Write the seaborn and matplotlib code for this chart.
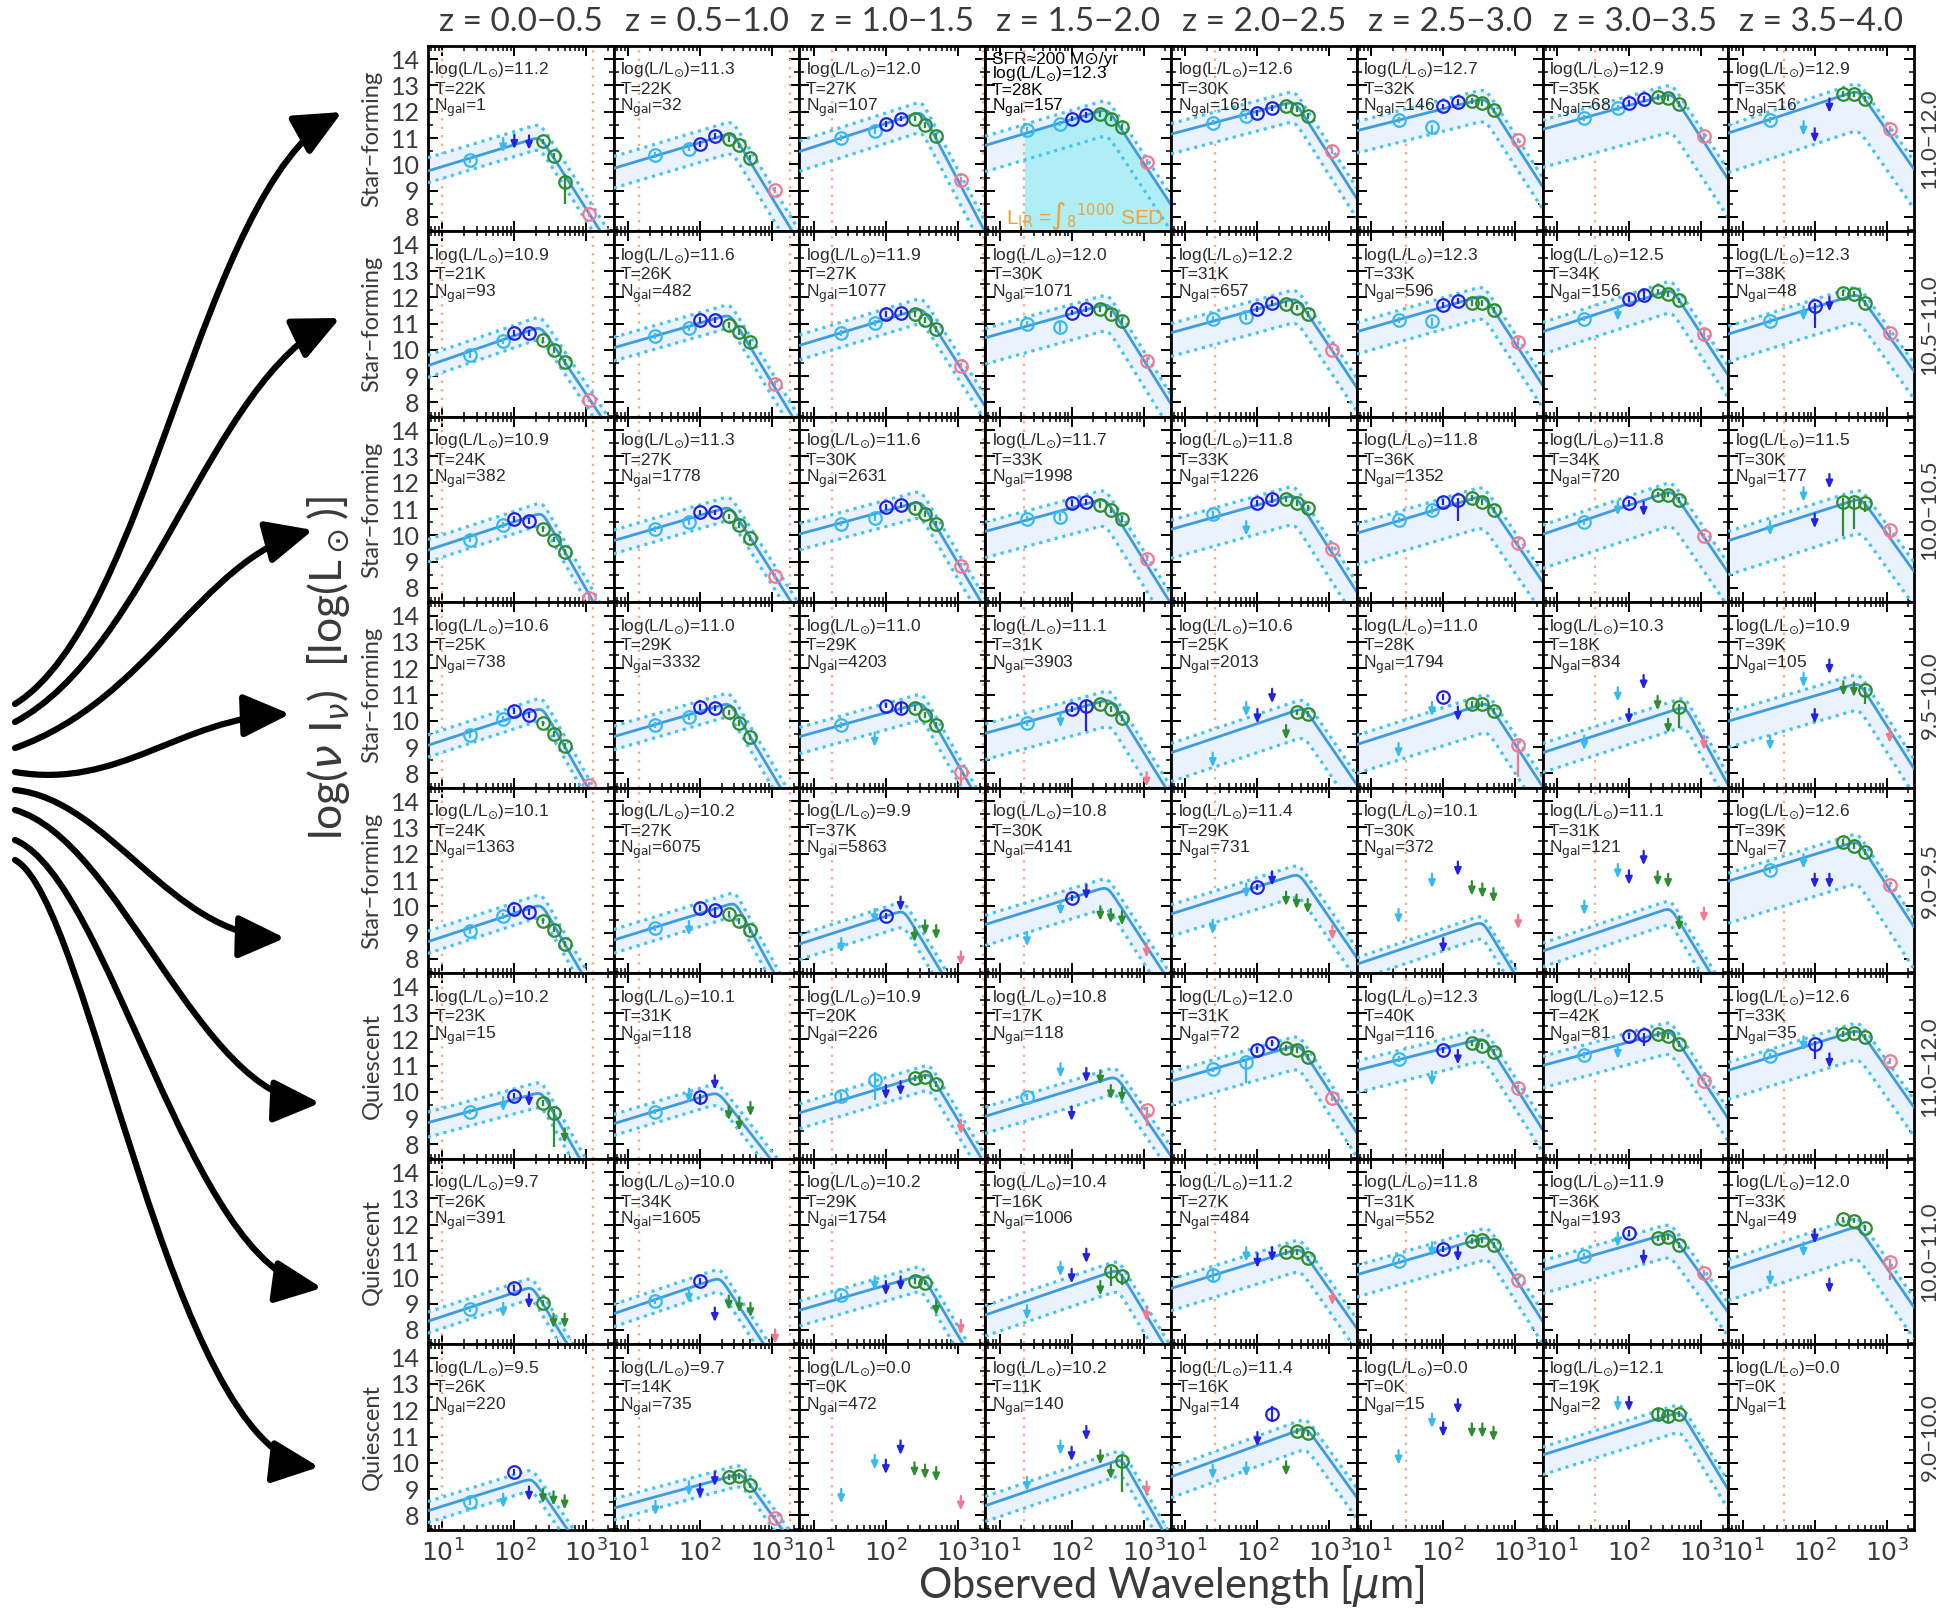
import numpy as np
import matplotlib
matplotlib.use("Agg")
import matplotlib.pyplot as plt
import seaborn as sns
from matplotlib.path import Path
from matplotlib.patches import FancyArrowPatch
from matplotlib.ticker import FixedLocator, LogLocator, NullFormatter, MultipleLocator

sns.set_theme(style="ticks")
plt.rcParams["font.family"] = ["Lato", "DejaVu Sans"]
plt.rcParams["mathtext.fontset"] = "dejavusans"

# ---------------------------------------------------------------- bins / bands
Z_BINS = ["0.0\u22120.5", "0.5\u22121.0", "1.0\u22121.5", "1.5\u22122.0",
          "2.0\u22122.5", "2.5\u22123.0", "3.0\u22123.5", "3.5\u22124.0"]
Z_MID = [0.25, 0.75, 1.25, 1.75, 2.25, 2.75, 3.25, 3.75]
MASS_BINS = ["11.0\u221212.0", "10.5\u221211.0", "10.0\u221210.5", "9.5\u221210.0",
             "9.0\u22129.5", "11.0\u221212.0", "10.0\u221211.0", "9.0\u221210.0"]
GAL_TYPE = ["Star\u2212forming"] * 5 + ["Quiescent"] * 3
BAND_WAVE = [24, 70, 100, 160, 250, 350, 500, 1100]
BAND_COLOR = ["#38b9f0", "#38b9f0", "#2222e4", "#2222e4",
              "#2f8d2f", "#2f8d2f", "#2f8d2f", "#f2798f"]

# ---------------------------------------------------------------- row 1
LOGL_R1 = [11.2, 11.3, 12.0, 12.3, 12.6, 12.7, 12.9, 12.9]
TEMP_R1 = [22, 22, 27, 28, 30, 32, 35, 35]
NGAL_R1 = [1, 32, 107, 157, 161, 146, 68, 16]
FLUX_R1 = [[10.17, 11.0, 11.13, 11.1, 10.87, 10.32, 9.34, 8.11],
           [10.36, 10.6, 10.78, 11.07, 10.95, 10.72, 10.26, 9.03],
           [11.0, 11.28, 11.52, 11.74, 11.74, 11.5, 11.09, 9.4],
           [11.31, 11.55, 11.74, 11.88, 11.92, 11.74, 11.42, 10.08],
           [11.59, 11.83, 11.96, 12.14, 12.23, 12.1, 11.83, 10.5],
           [11.68, 11.41, 12.2, 12.38, 12.4, 12.33, 12.05, 10.91],
           [11.77, 12.14, 12.33, 12.47, 12.57, 12.51, 12.29, 11.09],
           [11.68, 11.64, 11.37, 12.51, 12.66, 12.66, 12.47, 11.33]]
KIND_R1 = ["ovvvoooo", "oooooooo", "oooooooo", "oooooooo",
           "oooooooo", "oooooooo", "oooooooo", "ovvvoooo"]
SED_R1 = [(9.75, 2.36, 11.05, -4.3), (9.85, 2.45, 11.2, -4.5), (10.49, 2.5, 12.0, -5.2),
          (10.72, 2.5, 12.12, -4.15), (11.15, 2.52, 12.4, -4.3), (11.28, 2.59, 12.52, -4.25),
          (11.33, 2.6, 12.7, -4.2), (11.19, 2.61, 12.82, -3.9)]
BAND_R1 = [(0.5, 0.45), (0.45, 0.75), (0.4, 0.75), (0.35, 1.0),
           (0.4, 0.75), (0.35, 0.85), (0.35, 1.45), (0.3, 1.5)]

# ---------------------------------------------------------------- row 2
LOGL_R2 = [10.9, 11.6, 11.9, 12.0, 12.2, 12.3, 12.5, 12.3]
TEMP_R2 = [21, 26, 27, 30, 31, 33, 34, 38]
NGAL_R2 = [93, 482, 1077, 1071, 657, 596, 156, 48]
FLUX_R2 = [[9.8, 10.32, 10.63, 10.63, 10.37, 10.0, 9.53, 8.11],
           [10.54, 10.84, 11.15, 11.15, 10.96, 10.69, 10.28, 8.72],
           [10.65, 11.02, 11.37, 11.42, 11.37, 11.15, 10.78, 9.4],
           [11.0, 10.87, 11.42, 11.55, 11.55, 11.37, 11.09, 9.58],
           [11.19, 11.24, 11.55, 11.79, 11.74, 11.61, 11.37, 10.01],
           [11.15, 11.11, 11.7, 11.85, 11.79, 11.79, 11.52, 10.28],
           [11.19, 11.65, 11.92, 12.09, 12.22, 12.12, 11.88, 10.6],
           [11.09, 11.65, 11.65, 12.01, 12.16, 12.12, 11.79, 10.65]]
KIND_R2 = ["oooooooo", "oooooooo", "oooooooo", "oooooooo",
           "oooooooo", "oooooooo", "ovoooooo", "ovovoooo"]
SED_R2 = [(9.4, 2.37, 10.89, -4.1), (10.08, 2.42, 11.35, -4.5), (10.17, 2.51, 11.59, -4.3),
          (10.46, 2.51, 11.77, -4.4), (10.65, 2.55, 11.97, -4.1), (10.69, 2.565, 12.08, -4.2),
          (10.69, 2.6, 12.3, -4.2), (10.6, 2.61, 12.14, -3.84)]
BAND_R2 = [(0.4, 0.45), (0.4, 0.5), (0.4, 0.55), (0.35, 1.0),
           (0.35, 0.9), (0.35, 0.85), (0.35, 0.85), (0.3, 1.05)]

# ---------------------------------------------------------------- row 3
LOGL_R3 = [10.9, 11.3, 11.6, 11.7, 11.8, 11.8, 11.8, 11.5]
TEMP_R3 = [24, 27, 30, 33, 33, 36, 34, 30]
NGAL_R3 = [382, 1778, 2631, 1998, 1226, 1352, 720, 177]
FLUX_R3 = [[9.84, 10.39, 10.63, 10.54, 10.23, 9.84, 9.38, 7.63],
           [10.23, 10.5, 10.87, 10.87, 10.72, 10.39, 9.9, 8.46],
           [10.45, 10.67, 11.09, 11.15, 11.04, 10.82, 10.45, 8.85],
           [10.63, 10.69, 11.22, 11.26, 11.15, 10.96, 10.63, 9.12],
           [10.82, 10.54, 11.22, 11.37, 11.37, 11.22, 11.04, 9.49],
           [10.58, 10.95, 11.28, 11.33, 11.41, 11.28, 10.96, 9.71],
           [10.49, 11.3, 11.22, 11.28, 11.55, 11.55, 11.33, 9.99],
           [10.54, 11.83, 10.82, 12.33, 11.28, 11.28, 11.22, 10.21]]
KIND_R3 = ["oooooooo", "oooooooo", "oooooooo", "oooooooo",
           "ovoooooo", "oooooooo", "ovovoooo", "vvvvoooo"]
SED_R3 = [(9.44, 2.39, 10.87, -4.8), (9.8, 2.42, 11.1, -4.3), (10.05, 2.49, 11.3, -4.6),
          (10.15, 2.47, 11.4, -4.4), (10.23, 2.52, 11.55, -4.3), (10.08, 2.56, 11.52, -4.0),
          (10.04, 2.6, 11.7, -4.0), (9.8, 2.645, 11.42, -3.8)]
BAND_R3 = [(0.4, 0.45), (0.4, 0.5), (0.4, 0.6), (0.35, 1.0),
           (0.35, 1.1), (0.35, 1.2), (0.35, 1.3), (0.35, 1.3)]

# ---------------------------------------------------------------- row 4
LOGL_R4 = [10.6, 11.0, 11.0, 11.1, 10.6, 11.0, 10.3, 10.9]
TEMP_R4 = [25, 29, 29, 31, 25, 28, 18, 39]
NGAL_R4 = [738, 3332, 4203, 3903, 2013, 1794, 834, 105]
FLUX_R4 = [[9.47, 10.08, 10.36, 10.21, 9.9, 9.49, 9.03, 7.55],
           [9.84, 10.14, 10.54, 10.5, 10.32, 9.93, 9.38, None],
           [9.84, 9.56, 10.58, 10.49, 10.49, 10.21, 9.84, 8.05],
           [9.93, 10.3, 10.45, 10.58, 10.63, 10.45, 10.12, 8.05],
           [8.79, 10.72, 10.45, 11.22, 9.84, 10.32, 10.26, None],
           [9.16, 10.72, 10.91, 10.54, 10.63, 10.63, 10.36, 9.07],
           [9.44, 11.28, 10.45, 11.74, 10.95, 10.08, 10.54, 9.44],
           [9.44, 11.83, 10.45, 12.33, 11.5, 11.46, 11.18, 9.71]]
KIND_R4 = ["oooooooo", "ooooooo-", "ovoooooo", "ovooooov",
           "vvvvvoo-", "vvovoooo", "vvvvvvov", "vvvvvvov"]
SED_R4 = [(9.07, 2.39, 10.5, -4.8), (9.4, 2.415, 10.69, -4.6), (9.4, 2.51, 10.7, -4.8),
          (9.53, 2.54, 10.83, -4.4), (8.79, 2.65, 10.5, -4.0), (9.1, 2.62, 10.7, -4.2),
          (8.79, 2.78, 10.55, -5.0), (9.99, 2.62, 11.45, -4.3)]
BAND_R4 = [(0.4, 0.45), (0.4, 0.5), (0.35, 0.65), (0.35, 1.0),
           (0.35, 1.1), (0.35, 1.1), (0.35, 0.75), (0.35, 1.0)]

# ---------------------------------------------------------------- row 5
LOGL_R5 = [10.1, 10.2, 9.9, 10.8, 11.4, 10.1, 11.1, 12.6]
TEMP_R5 = [24, 27, 37, 30, 29, 30, 31, 39]
NGAL_R5 = [1363, 6075, 5863, 4141, 731, 372, 121, 7]
FLUX_R5 = [[9.07, 9.64, 9.9, 9.8, 9.45, 9.12, 8.57, None],
           [9.18, 9.44, 9.95, 9.86, 9.71, 9.45, 9.09, 7.75],
           [8.79, 9.9, 9.64, 10.37, 9.2, 9.47, 9.29, 8.29],
           [9.03, 10.22, 10.32, 10.81, 10.0, 9.9, 9.82, 8.6],
           [9.49, 10.87, 10.74, 11.33, 10.56, 10.45, 10.28, 9.27],
           [9.9, 11.24, 8.79, 11.7, 10.96, 10.87, 10.69, 9.68],
           [10.22, 11.61, 11.37, 12.11, 11.33, 11.24, 9.62, 9.95],
           [11.37, 11.98, 11.24, 11.24, 12.44, 12.29, 12.07, 10.83]]
KIND_R5 = ["ooooooo-", "ovooooov", "vvovvvvv", "vvovvvvv",
           "vvovvvvv", "vvvvvvvv", "vvvvvvvv", "ovvvoooo"]
SED_R5 = [(8.66, 2.38, 10.08, -4.7), (8.72, 2.49, 10.15, -5.0), (8.57, 2.25, 9.85, -4.5),
          (9.31, 2.5, 10.75, -4.2), (9.71, 2.58, 11.25, -4.0), (7.8, 2.55, 9.42, -4.5),
          (8.3, 2.58, 9.95, -4.5), (10.96, 2.6, 12.49, -4.2)]
BAND_R5 = [(0.4, 0.45), (0.4, 0.5), (0.35, 0.6), (0.35, 0.8),
           (0.35, 0.85), (0.25, 0.6), (0.3, 0.6), (0.3, 1.6)]

# ---------------------------------------------------------------- row 6
LOGL_R6 = [10.2, 10.1, 10.9, 10.8, 12.0, 12.3, 12.5, 12.6]
TEMP_R6 = [23, 31, 20, 17, 31, 40, 42, 33]
NGAL_R6 = [15, 118, 226, 118, 72, 116, 81, 35]
FLUX_R6 = [[9.25, 9.8, 9.86, 9.99, 9.58, 9.2, 8.61, None],
           [9.25, 10.12, 9.8, 10.63, 9.47, 9.07, 9.62, 7.9],
           [9.84, 10.45, 10.26, 10.41, 10.54, 10.58, 10.3, 8.94],
           [9.8, 11.09, 9.44, 10.91, 10.82, 10.26, 10.17, 9.31],
           [10.85, 11.15, 11.59, 11.87, 11.68, 11.59, 11.31, 9.77],
           [11.24, 10.78, 11.59, 11.59, 11.87, 11.74, 11.52, 10.14],
           [11.41, 11.8, 12.11, 12.15, 12.2, 12.11, 11.83, 10.41],
           [11.37, 12.11, 11.83, 11.46, 12.2, 12.24, 12.07, 11.18]]
KIND_R6 = ["ovovoov-", "ovovvvvv", "oovvooov", "ovvvvvvo",
           "oooooooo", "ovovoooo", "ovoooooo", "ovovoooo"]
SED_R6 = [(8.83, 2.38, 10.0, -4.8), (8.79, 2.25, 10.0, -3.5), (9.2, 2.61, 10.7, -4.5),
          (9.07, 2.62, 10.6, -4.0), (10.41, 2.58, 11.8, -4.2), (10.82, 2.57, 12.05, -4.3),
          (11.0, 2.58, 12.33, -4.2), (10.82, 2.62, 12.37, -3.9)]
BAND_R6 = [(0.4, 0.55), (0.35, 0.45), (0.35, 0.6), (0.35, 0.65),
           (0.35, 0.9), (0.35, 0.85), (0.35, 0.85), (0.3, 1.1)]

# ---------------------------------------------------------------- row 7
LOGL_R7 = [9.7, 10.0, 10.2, 10.4, 11.2, 11.8, 11.9, 12.0]
TEMP_R7 = [26, 34, 29, 16, 27, 31, 36, 33]
NGAL_R7 = [391, 1605, 1754, 1006, 484, 552, 193, 49]
FLUX_R7 = [[8.79, 9.03, 9.58, 9.36, 9.03, 8.62, 8.62, None],
           [9.09, 9.58, 9.86, 8.85, 9.31, 9.21, 9.03, 8.02],
           [9.31, 10.04, 9.86, 10.04, 9.86, 9.8, 9.12, 8.39],
           [8.94, 10.59, 10.32, 11.09, 9.86, 10.23, 10.04, 8.88],
           [10.08, 11.15, 10.91, 11.15, 10.96, 10.96, 10.72, 9.49],
           [10.63, 11.33, 11.09, 11.15, 11.37, 11.42, 11.24, 9.91],
           [10.83, 11.7, 11.7, 11.02, 11.48, 11.52, 11.24, 10.17],
           [10.23, 11.33, 11.83, 9.95, 12.2, 12.16, 11.88, 10.6]]
KIND_R7 = ["ovovovv-", "ovovvvvv", "ovvvoovv", "vvvvvoov",
           "ovvvooov", "ovovoooo", "ovovoooo", "vvvvoooo"]
SED_R7 = [(8.33, 2.25, 9.65, -4.5), (8.62, 2.28, 10.0, -4.2), (8.75, 2.5, 10.1, -4.6),
          (8.57, 2.65, 10.3, -4.5), (9.58, 2.6, 11.11, -3.9), (10.1, 2.63, 11.56, -4.3),
          (10.28, 2.58, 11.7, -3.8), (10.32, 2.6, 11.95, -3.96)]
BAND_R7 = [(0.35, 0.45), (0.35, 0.5), (0.35, 0.6), (0.35, 0.8),
           (0.35, 0.85), (0.35, 0.85), (0.35, 0.9), (0.35, 1.2)]

# ---------------------------------------------------------------- row 8
LOGL_R8 = [9.5, 9.7, 0.0, 10.2, 11.4, 0.0, 12.1, 0.0]
TEMP_R8 = [26, 14, 0, 11, 16, 0, 19, 0]
NGAL_R8 = [220, 735, 472, 140, 14, 15, 2, 1]
FLUX_R8 = [[8.5, 8.83, 9.66, 9.1, 9.01, 8.92, 8.77, 7.75],
           [8.55, 9.29, 9.2, 9.66, 9.47, 9.51, 9.14, 7.91],
           [9.01, 10.3, 10.12, 10.85, 10.02, 9.93, 9.84, 8.74],
           [9.47, 10.85, 10.61, 11.4, 10.48, 9.93, 10.08, 9.29],
           [9.93, 10.02, 11.17, 11.87, 10.06, 11.22, 11.13, None],
           [10.48, 11.87, 11.54, 12.42, 11.5, 11.5, 11.37, None],
           [None, 12.51, 12.51, None, 11.87, 11.77, 11.87, None],
           [None, None, None, None, None, None, None, None]]
KIND_R8 = ["ovovvvvv", "vvvvoooo", "vvvvvvvv", "vvvvvvov",
           "vvvovoo-", "vvvvvvv-", "-vv-ooo-", "--------"]
SED_R8 = [(8.18, 2.25, 9.42, -4.0), (8.28, 2.58, 9.6, -3.8), None,
          (8.37, 2.7, 10.15, -4.8), (9.47, 2.68, 11.35, -3.8), None,
          (10.3, 2.72, 11.95, -4.5), None]
BAND_R8 = [(0.35, 0.45), (0.35, 0.45), None, (0.35, 0.6),
           (0.35, 0.8), None, (0.3, 0.75), None]

# asymmetric error bars (row, column, band) -> (down, up); all others are small
ERRORS = {(0, 0, 6): (0.85, 0.3), (0, 5, 1): (0.25, 0.1),
          (1, 3, 1): (0.2, 0.2), (1, 5, 1): (0.2, 0.1), (1, 6, 3): (0.2, 0.2),
          (1, 7, 2): (0.8, 0.15),
          (2, 3, 1): (0.15, 0.15), (2, 4, 3): (0.15, 0.15), (2, 5, 1): (0.15, 0.15),
          (2, 5, 3): (0.8, 0.1), (2, 7, 4): (1.3, 0.15), (2, 7, 5): (1.05, 0.15),
          (2, 7, 6): (0.35, 0.1), (2, 7, 7): (0.4, 0.1),
          (3, 2, 3): (0.2, 0.2), (3, 2, 7): (0.5, 0.1), (3, 3, 3): (0.95, 0.2),
          (3, 5, 7): (1.2, 0.15), (3, 6, 6): (0.8, 0.1), (3, 7, 6): (0.55, 0.1),
          (4, 1, 3): (0.3, 0.1),
          (5, 0, 5): (1.3, 0.15), (5, 1, 2): (0.3, 0.1), (5, 2, 1): (0.75, 0.3),
          (5, 3, 7): (0.6, 0.1), (5, 4, 1): (0.8, 0.1), (5, 6, 3): (0.4, 0.1),
          (5, 7, 2): (0.6, 0.1),
          (6, 3, 5): (0.55, 0.15), (6, 3, 6): (0.35, 0.1), (6, 4, 0): (0.25, 0.25),
          (6, 7, 7): (0.7, 0.1),
          (7, 3, 6): (1.2, 0.2), (7, 4, 3): (0.3, 0.3), (7, 6, 4): (0.2, 0.2),
          (7, 6, 5): (0.2, 0.2)}

LOGL = [LOGL_R1, LOGL_R2, LOGL_R3, LOGL_R4, LOGL_R5, LOGL_R6, LOGL_R7, LOGL_R8]
TEMP = [TEMP_R1, TEMP_R2, TEMP_R3, TEMP_R4, TEMP_R5, TEMP_R6, TEMP_R7, TEMP_R8]
NGAL = [NGAL_R1, NGAL_R2, NGAL_R3, NGAL_R4, NGAL_R5, NGAL_R6, NGAL_R7, NGAL_R8]
FLUX = [FLUX_R1, FLUX_R2, FLUX_R3, FLUX_R4, FLUX_R5, FLUX_R6, FLUX_R7, FLUX_R8]
KIND = [KIND_R1, KIND_R2, KIND_R3, KIND_R4, KIND_R5, KIND_R6, KIND_R7, KIND_R8]
SED = [SED_R1, SED_R2, SED_R3, SED_R4, SED_R5, SED_R6, SED_R7, SED_R8]
BAND = [BAND_R1, BAND_R2, BAND_R3, BAND_R4, BAND_R5, BAND_R6, BAND_R7, BAND_R8]

LOGX_MIN, LOGX_MAX = 0.80, 3.38
Y_MIN, Y_MAX = 7.45, 14.5

CURVE_C = "#3d9be0"
DOT_C = "#45c4f4"
BAND_FILL = "#eaf3fd"
VLINE_C = "#f6a98c"
TEXT_C = "#2a2a2a"
LABEL_C = "#3a3a3a"
PANEL_FONT = ["Liberation Sans", "DejaVu Sans"]


def sed_curve(logx, y_left, log_peak, y_peak, slope, soft=0.35):
    """Power-law rise joined to a Rayleigh-Jeans fall with a rounded peak."""
    rise = y_left + (y_peak - y_left) * (logx - LOGX_MIN) / (log_peak - LOGX_MIN)
    fall = y_peak + slope * (logx - log_peak)
    return -soft * np.log10(10 ** (-rise / soft) + 10 ** (-fall / soft))


fig, axes = plt.subplots(8, 8, figsize=(19.46, 16.13), dpi=100, sharex=True, sharey=True)
fig.subplots_adjust(left=0.2199, right=0.9836, top=0.9715, bottom=0.0515,
                    wspace=0, hspace=0)

logx = np.linspace(LOGX_MIN, LOGX_MAX, 400)
wave = 10 ** logx

for r in range(8):
    for c in range(8):
        ax = axes[r, c]
        ax.set_xscale("log")
        zm = Z_MID[c]
        for w in (8 * (1 + zm), 1000 * (1 + zm)):
            ax.axvline(w, color=VLINE_C, ls=(0, (1.0, 2.6)), lw=1.7, zorder=1)

        if SED[r][c] is not None:
            yl, xp, yp, sf = SED[r][c]
            du, dl = BAND[r][c]
            curve = sed_curve(logx, yl, xp, yp, sf)
            ax.fill_between(wave, curve - dl, curve + du, color=BAND_FILL, lw=0, zorder=2)
            if r == 0 and c == 3:
                sel = wave >= 8 * (1 + zm)
                ax.fill_between(wave[sel], Y_MIN, curve[sel], color="#aeeef4", lw=0, zorder=2.5)
                ax.axvline(8 * (1 + zm), color=VLINE_C, ls=(0, (1.0, 2.6)), lw=1.7, zorder=2.6)
                ax.text(0.965, 0.085, "L$_{\\rm IR}$ =\u222b$_8$$^{1000}$ SED",
                        transform=ax.transAxes, ha="right", va="center", fontsize=15,
                        color="#f0a23a", family=PANEL_FONT, zorder=6)
            for off in (du, -dl):
                sns.lineplot(x=wave, y=curve + off, ax=ax, color=DOT_C, lw=2.3,
                             linestyle=(0, (1.0, 1.5)), estimator=None, sort=False, zorder=3)
            sns.lineplot(x=wave, y=curve, ax=ax, color=CURVE_C, lw=2.0,
                         estimator=None, sort=False, zorder=4)

        for b, (val, kind) in enumerate(zip(FLUX[r][c], KIND[r][c])):
            if val is None or kind == "-":
                continue
            col = BAND_COLOR[b]
            x = BAND_WAVE[b]
            if kind == "o":
                lo, hi = ERRORS.get((r, c, b), (0.11, 0.11))
                ax.errorbar([x], [val], yerr=[[lo], [hi]], fmt="o", mfc="none", mec=col,
                            ms=9, mew=1.6, ecolor=col, elinewidth=1.6, capsize=0, zorder=5)
            else:
                ax.annotate("", xy=(x, val - 0.55), xytext=(x, val),
                            arrowprops=dict(arrowstyle="-|>,head_length=0.45,head_width=0.2",
                                            color=col, lw=1.6, shrinkA=0, shrinkB=0,
                                            mutation_scale=10), zorder=5)

        lines = [r"log(L/L$_{\odot}$)=" + f"{LOGL[r][c]:.1f}",
                 f"T={TEMP[r][c]}K", r"N$_{\rm gal}$=" + f"{NGAL[r][c]}"]
        ypos = [0.87, 0.767, 0.664]
        tcol = TEXT_C
        if r == 0 and c == 3:
            lines = ["SFR\u2248200 M\u2299/yr"] + lines
            ypos = [0.928, 0.85, 0.762, 0.668]
            tcol = "black"
        for t, yy in zip(lines, ypos):
            ax.text(0.035, yy, t, transform=ax.transAxes, ha="left", va="center",
                    fontsize=12.5, color=tcol, family=PANEL_FONT, zorder=6)

        for sp in ax.spines.values():
            sp.set_linewidth(2.0)
            sp.set_color("black")

ax0 = axes[0, 0]
ax0.set_xlim(10 ** LOGX_MIN, 10 ** LOGX_MAX)
ax0.set_ylim(Y_MIN, Y_MAX)
ax0.xaxis.set_major_locator(FixedLocator([10, 100, 1000]))
ax0.set_xticklabels([r"$10^1$", r"$10^2$", r"$10^3$"])
ax0.xaxis.set_minor_locator(LogLocator(base=10, subs=np.arange(2, 10)))
ax0.xaxis.set_minor_formatter(NullFormatter())
ax0.yaxis.set_major_locator(FixedLocator(list(range(8, 15))))
ax0.yaxis.set_minor_locator(MultipleLocator(0.5))
for ax in axes.flat:
    ax.tick_params(which="both", direction="in", top=True, right=True, color="black")
    ax.tick_params(which="major", length=7, width=1.4, labelsize=18, pad=6,
                   labelcolor=LABEL_C)
    ax.tick_params(which="minor", length=3.5, width=1.1)
    ax.set_xlabel("")
    ax.set_ylabel("")

# column titles, row labels
for c in range(8):
    pos = axes[0, c].get_position()
    fig.text((pos.x0 + pos.x1) / 2, 0.9865, f"z = {Z_BINS[c]}", ha="center", va="center",
             fontsize=24, color=LABEL_C)
for r in range(8):
    pos = axes[r, 0].get_position()
    yc = (pos.y0 + pos.y1) / 2
    fig.text(0.191, yc, GAL_TYPE[r], rotation=90, ha="center", va="center",
             fontsize=17, color=LABEL_C)
    fig.text(0.9915, yc, MASS_BINS[r], rotation=90, ha="center", va="center",
             fontsize=16, color=LABEL_C)

fig.text(0.169, 0.586, r"log($\nu$ I$_\nu$)  [log(L$_\odot$)]", rotation=90,
         ha="center", va="center", fontsize=32, color=LABEL_C)
fig.text(0.602, 0.0165, r"Observed Wavelength [$\mu$m]", ha="center", va="center",
         fontsize=30, color=LABEL_C)

# curved arrows fanning out to the rows (figure pixel coordinates, y downward)
ARROW_PATHS = [
    [(15, 704), (150, 620), (200, 190), (342, 112)],
    [(15, 722), (150, 650), (210, 380), (340, 318)],
    [(15, 748), (150, 700), (200, 560), (313, 530)],
    [(15, 772), (120, 790), (180, 718), (290, 714)],
    [(15, 790), (110, 800), (170, 935), (285, 938)],
    [(15, 810), (120, 840), (200, 1098), (320, 1103)],
    [(15, 840), (110, 880), (190, 1270), (322, 1288)],
    [(15, 860), (90, 900), (170, 1450), (319, 1467)],
]
W_PX, H_PX = 1946.0, 1613.0
for pts in ARROW_PATHS:
    verts = [(px / W_PX, 1 - py / H_PX) for px, py in pts]
    path = Path(verts, [Path.MOVETO, Path.CURVE4, Path.CURVE4, Path.CURVE4])
    arrow = FancyArrowPatch(path=path, arrowstyle="-|>,head_length=1.3,head_width=0.6",
                            mutation_scale=22, lw=4.5, color="black",
                            transform=fig.transFigure)
    fig.add_artist(arrow)

fig.savefig("out.png", dpi=100, facecolor="white")
